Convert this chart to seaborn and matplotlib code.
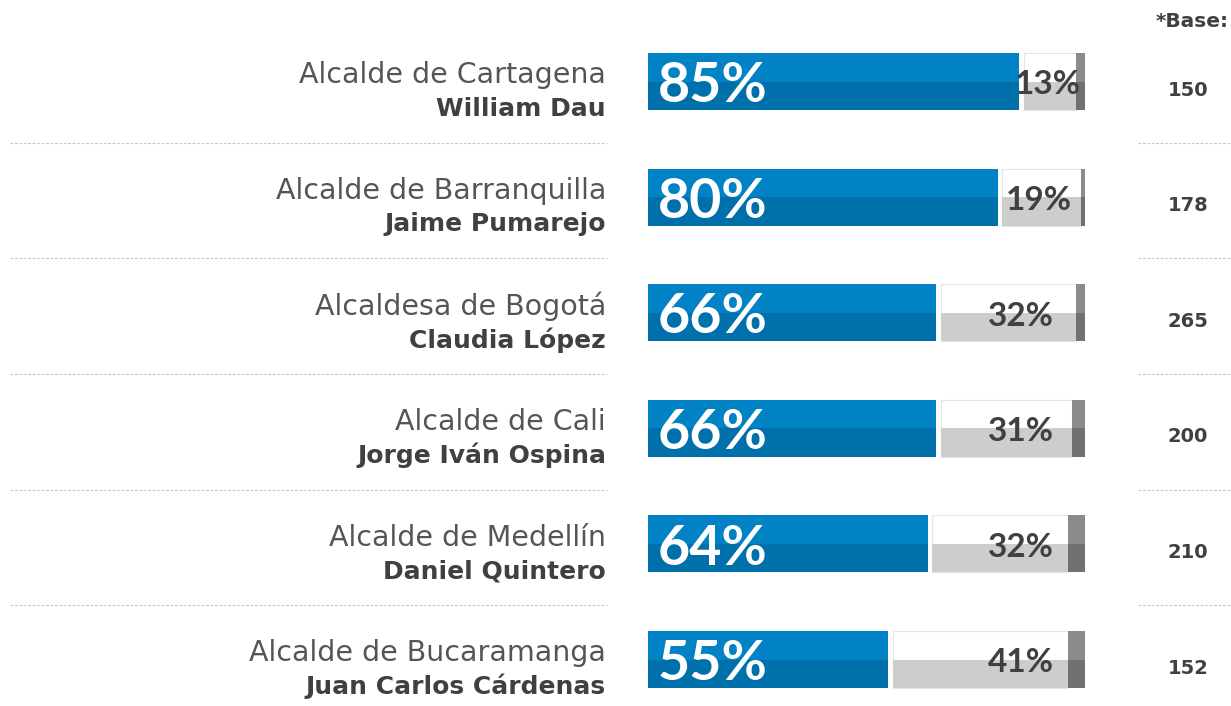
import matplotlib
matplotlib.use("Agg")
import matplotlib.pyplot as plt
import seaborn as sns
import pandas as pd
import numpy as np

# ---- data ----
cargos = ["Alcalde de Cartagena", "Alcalde de Barranquilla", "Alcaldesa de Bogotá",
          "Alcalde de Cali", "Alcalde de Medellín", "Alcalde de Bucaramanga"]
nombres = ["William Dau", "Jaime Pumarejo", "Claudia López",
           "Jorge Iván Ospina", "Daniel Quintero", "Juan Carlos Cárdenas"]
aprueba = [85, 80, 66, 66, 64, 55]
desaprueba = [13, 19, 32, 31, 32, 41]
bases = [150, 178, 265, 200, 210, 152]
base_title = "*Base:"

df = pd.DataFrame({"cargo": cargos, "nombre": nombres,
                   "aprueba": aprueba, "desaprueba": desaprueba, "base": bases})

sns.set_theme(style="white")
plt.rcParams['font.family'] = ['Lato', 'DejaVu Sans']
SIDE_FONT = ['DejaVu Sans']

W, H = 1231, 706
fig = plt.figure(figsize=(W / 100, H / 100), dpi=100)
ax = fig.add_axes([0, 0, 1, 1])

BLUE_TOP = "#0082C5"
BLUE_BOT = "#0070AA"
GRAY_BOT = "#CDCDCC"
DARK_TOP = "#8B8B8B"
DARK_BOT = "#717171"
TXT = "#404040"

h = 0.493
ypos = np.arange(len(df))
a = df["aprueba"].to_numpy(float)
d = df["desaprueba"].to_numpy(float)
rest = 100 - a - d
gap = 1.1

# blue bars (full, dark) via seaborn
sns.barplot(data=df, x="aprueba", y="cargo", orient="h", color=BLUE_BOT,
            saturation=1, width=h, linewidth=0, ax=ax)
# upper lighter half
ax.barh(ypos - h / 2, a, height=h / 2, align="edge", color=BLUE_TOP, linewidth=0)

# gray (disapproval) bars: white upper half with faint outline, gray lower half
ax.barh(ypos, d - gap, left=a + gap, height=h, color="white",
        edgecolor="#E4E4E4", linewidth=0.8)
ax.barh(ypos, d - gap, left=a + gap, height=h / 2, align="edge",
        color=GRAY_BOT, linewidth=0)

# remainder (dark gray)
ax.barh(ypos, rest, left=a + d, height=h, color=DARK_BOT, linewidth=0)
ax.barh(ypos - h / 2, rest, left=a + d, height=h / 2, align="edge",
        color=DARK_TOP, linewidth=0)

# coordinates
ppu = 4.37
x0 = 648
ax.set_xlim(-x0 / ppu, (W - x0) / ppu)
row_px, y0 = 115.6, 81.5
ax.set_ylim((H - y0) / row_px, -y0 / row_px)
ax.axis("off")

for i, r in df.iterrows():
    # blue label
    ax.text(2.2, i + 0.04, f"{r['aprueba']}%", color="white", fontsize=40,
            fontweight="bold", ha="left", va="center")
    # gray label
    cx = max(r["aprueba"] + r["desaprueba"] / 2, 85.3)
    ax.text(cx, i + 0.03, f"{r['desaprueba']}%", color=TXT, fontsize=24,
            fontweight="bold", ha="center", va="center")
    # left labels
    ax.text(-9.6, i - 0.055, r["cargo"], color="#555555", fontsize=20.5,
            fontweight="normal", ha="right", va="center", family=SIDE_FONT)
    ax.text(-9.6, i + 0.235, r["nombre"], color=TXT, fontsize=18,
            fontweight="bold", ha="right", va="center", family=SIDE_FONT)
    # base
    ax.text(123.6, i + 0.075, f"{r['base']}", color=TXT, fontsize=14,
            fontweight="bold", ha="center", va="center", family=SIDE_FONT)

ax.text(132.8, -0.515, base_title, color=TXT, fontsize=14.5,
        fontweight="bold", ha="right", va="center", family=SIDE_FONT)

# dashed separators
for i in range(len(df) - 1):
    yy = i + 0.53
    ax.plot([-146, -9.4], [yy, yy], color="#C8C8C8", lw=0.8,
            linestyle=(0, (2.5, 1.5)), solid_capstyle="butt")
    ax.plot([112.1, 133.7], [yy, yy], color="#C8C8C8", lw=0.8,
            linestyle=(0, (2.5, 1.5)), solid_capstyle="butt")

fig.savefig("out.png", dpi=100, facecolor="white")
